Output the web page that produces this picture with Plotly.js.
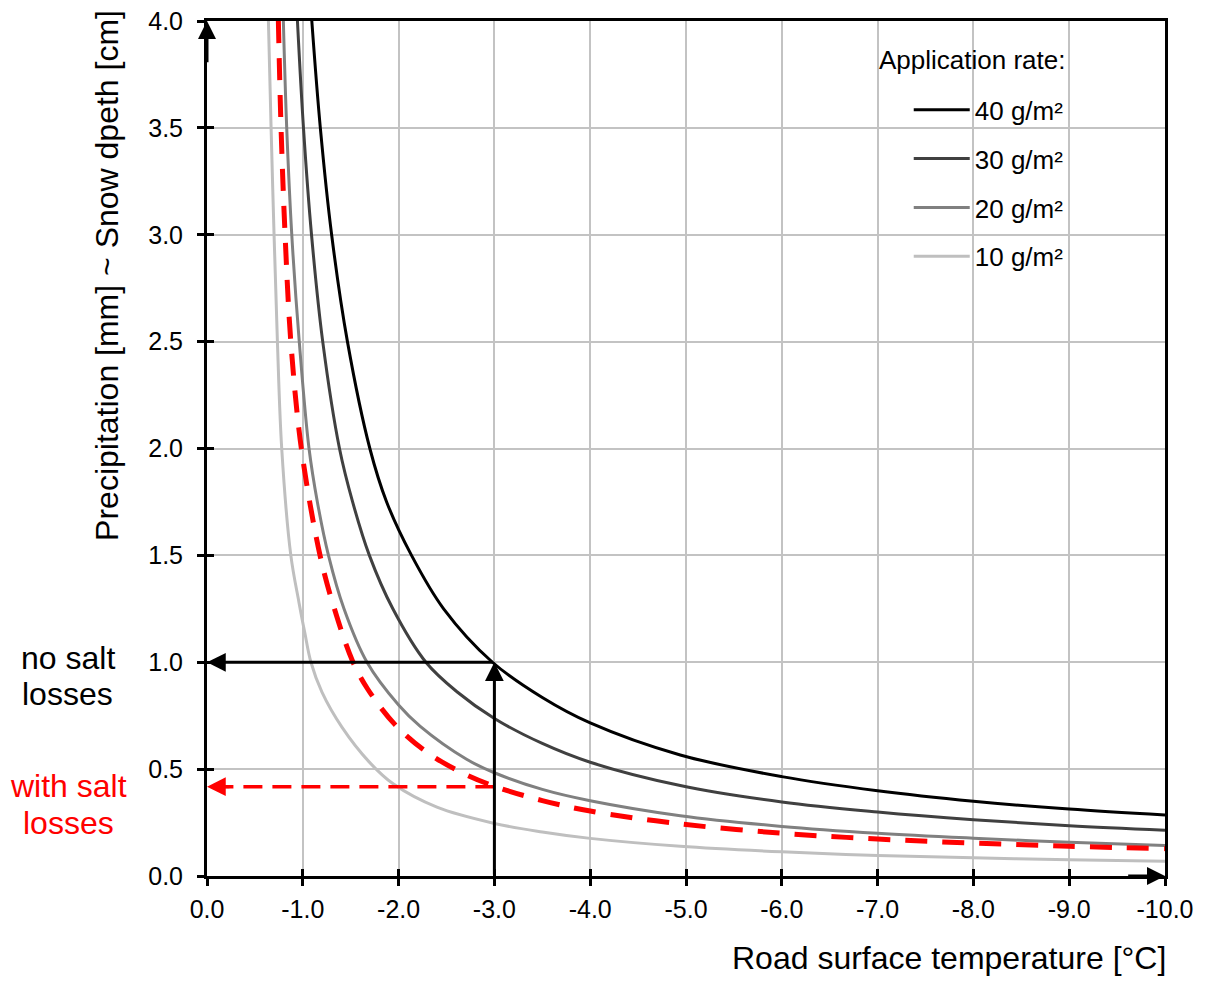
<!DOCTYPE html>
<html><head><meta charset="utf-8">
<script src="https://cdn.plot.ly/plotly-3.0.1.min.js"></script>
<style>html,body{margin:0;padding:0;background:#fff}#chart{width:1211px;height:981px}</style>
</head><body><div id="chart"></div>
<script>
// ---- data ----
const tempTicks = [0,-1,-2,-3,-4,-5,-6,-7,-8,-9,-10];
const tempTickText = ['0.0','-1.0','-2.0','-3.0','-4.0','-5.0','-6.0','-7.0','-8.0','-9.0','-10.0'];
const precTicks = [0,0.5,1,1.5,2,2.5,3,3.5,4];
const precTickText = ['0.0','0.5','1.0','1.5','2.0','2.5','3.0','3.5','4.0'];
const seriesNames = ['40 g/m²','30 g/m²','20 g/m²','10 g/m²'];

const t40 = [-1.094,-1.183,-1.301,-1.466,-1.70,-1.875,-2.135,-2.47,-2.98,-3.5,-4.0,-4.94,-6,-7,-8,-9,-10];
const p40 = [4.0,3.5,3.0,2.5,2.0,1.75,1.5,1.25,1.0,0.835,0.716,0.566,0.465,0.399,0.350,0.313,0.285];

const t30 = [-0.944,-1.007,-1.091,-1.208,-1.383,-1.52,-1.695,-1.94,-2.285,-2.609,-3.0,-3.5,-4.0,-4.94,-6,-7,-8,-9,-10];
const p30 = [4.0,3.5,3.0,2.5,2.0,1.75,1.5,1.25,1.0,0.862,0.737,0.62,0.532,0.423,0.346,0.299,0.263,0.235,0.214];

const t20 = [-0.797,-0.832,-0.885,-0.963,-1.065,-1.152,-1.268,-1.43,-1.67,-2.0,-2.226,-2.714,-3.0,-3.5,-4.0,-4.94,-6,-7,-8,-9,-10];
const p20 = [4.0,3.5,3.0,2.5,2.0,1.75,1.5,1.25,1.0,0.80,0.70,0.545,0.483,0.405,0.352,0.282,0.232,0.200,0.177,0.158,0.143];

const t10 = [-0.641,-0.669,-0.70,-0.735,-0.78,-0.875,-0.96,-1.02,-1.085,-1.20,-1.41,-1.69,-1.947,-2.4,-3.0,-3.5,-4.0,-4.94,-6,-7,-8,-9,-10];
const p10 = [4.0,3.5,3.0,2.5,2.0,1.5,1.28,1.14,1.0,0.86,0.695,0.535,0.43,0.322,0.246,0.206,0.176,0.139,0.113,0.096,0.085,0.076,0.069];

const tLoss = [-0.745,-0.773,-0.815,-0.875,-0.985,-1.18,-1.33,-1.52,-1.675,-1.965,-2.28,-2.644,-3.0,-3.5,-4.0,-4.94,-6,-7,-8,-9,-10];
const pLoss = [4.0,3.5,3.0,2.5,2.0,1.5,1.25,1.005,0.876,0.707,0.584,0.487,0.420,0.353,0.304,0.244,0.200,0.173,0.154,0.139,0.128];

const readTemp = -3.0;
const readNoLoss = 1.0;
const readWithLoss = 0.418;

// ---- styling ----
const FONT = 'Liberation Sans, Arial, sans-serif';
const seriesColors = ['#000000','#404040','#808080','#bfbfbf'];
const seriesT = [t40,t30,t20,t10];
const seriesP = [p40,p30,p20,p10];

const traces = [];
for (let i = 3; i >= 0; i--) {
  traces.push({
    x: seriesT[i], y: seriesP[i], type: 'scatter', mode: 'lines',
    name: seriesNames[i], legendgroup: 'g'+i, legendrank: i+1,
    line: {color: seriesColors[i], width: 3, shape: 'spline', smoothing: 1},
    hoverinfo: 'skip'
  });
}
traces.push({
  x: tLoss, y: pLoss, type: 'scatter', mode: 'lines', showlegend: false,
  line: {color: '#ff0000', width: 5, dash: '22px,15px', shape: 'spline', smoothing: 1},
  hoverinfo: 'skip'
});
traces.push({
  x: [readTemp, -0.15], y: [readWithLoss, readWithLoss], type: 'scatter', mode: 'lines', showlegend: false,
  line: {color: '#ff0000', width: 3.5, dash: '19px,10px'}, hoverinfo: 'skip'
});
traces.push({x: [], y: [], xaxis: 'x2', yaxis: 'y', showlegend: false, hoverinfo: 'skip'});
traces.push({x: [], y: [], xaxis: 'x', yaxis: 'y2', showlegend: false, hoverinfo: 'skip'});

function arrow(x, y, ax, ay, color, size) {
  return {x: x, y: y, ax: ax, ay: ay, xref: 'x', yref: 'y', axref: 'x', ayref: 'y',
    text: '', showarrow: true, arrowhead: 2, arrowsize: size, arrowwidth: 3,
    arrowcolor: color, standoff: 0, startstandoff: 0};
}

const annotations = [
  arrow(0, readNoLoss, readTemp, readNoLoss, '#000', 1.25),
  arrow(readTemp, readNoLoss, readTemp, 0, '#000', 1.25),
  arrow(0, readWithLoss, -0.25, readWithLoss, '#ff0000', 1.25),
  arrow(-10, 0, -9.6, 0, '#000', 1.2),
  arrow(0, 4, 0, 3.8, '#000', 1.2),
  {text: 'Precipitation [mm] ~ Snow dpeth [cm]', xref: 'paper', yref: 'paper', x: -0.1044, y: 0.703,
   xanchor: 'center', yanchor: 'middle', textangle: -90, showarrow: false, font: {size: 32, color: '#000', family: FONT}},
  {text: 'Road surface temperature [°C]', xref: 'paper', yref: 'paper', x: 1.003, y: -0.0959,
   xanchor: 'right', yanchor: 'middle', showarrow: false, font: {size: 32, color: '#000', family: FONT}},
  {text: 'no salt', xref: 'paper', yref: 'y', x: -0.1451, y: 1.02, xanchor: 'center', yanchor: 'middle',
   showarrow: false, font: {size: 32, color: '#000', family: FONT}},
  {text: 'losses', xref: 'paper', yref: 'y', x: -0.1451, y: 0.851, xanchor: 'center', yanchor: 'middle',
   showarrow: false, font: {size: 32, color: '#000', family: FONT}},
  {text: 'with salt', xref: 'paper', yref: 'y', x: -0.1441, y: 0.421, xanchor: 'center', yanchor: 'middle',
   showarrow: false, font: {size: 32, color: '#ff0000', family: FONT}},
  {text: 'losses', xref: 'paper', yref: 'y', x: -0.1441, y: 0.248, xanchor: 'center', yanchor: 'middle',
   showarrow: false, font: {size: 32, color: '#ff0000', family: FONT}},
  {text: 'Application rate:', xref: 'paper', yref: 'paper', x: 0.6994, y: 0.9544, xanchor: 'left', yanchor: 'middle',
   showarrow: false, font: {size: 26, color: '#000', family: FONT}}
];

const axisCommon = {
  showline: true, linecolor: '#000', linewidth: 3, mirror: true,
  ticks: 'outside', ticklen: 7, tickwidth: 3, tickcolor: '#000',
  showgrid: true, gridcolor: '#c3c3c3', gridwidth: 2, zeroline: false,
  tickfont: {size: 25, color: '#000', family: FONT}
};

const layout = {
  width: 1211, height: 981,
  margin: {l: 207, r: 46, t: 21, b: 105},
  paper_bgcolor: '#fff', plot_bgcolor: '#fff',
  font: {family: FONT, color: '#000'},
  showlegend: true,
  xaxis: Object.assign({}, axisCommon, {range: [0, -10], tickvals: tempTicks, ticktext: tempTickText, ticklabelstandoff: 2}),
  yaxis: Object.assign({}, axisCommon, {range: [0, 4], tickvals: precTicks, ticktext: precTickText, ticklabelstandoff: 9}),
  xaxis2: {overlaying: 'x', anchor: 'y', side: 'bottom', range: [0, -10], tickvals: tempTicks, ticks: 'inside', ticklen: 7,
    tickwidth: 3, tickcolor: '#000', showticklabels: false, showgrid: false, zeroline: false, showline: false},
  yaxis2: {overlaying: 'y', anchor: 'x', side: 'left', range: [0, 4], tickvals: precTicks, ticks: 'inside', ticklen: 7,
    tickwidth: 3, tickcolor: '#000', showticklabels: false, showgrid: false, zeroline: false, showline: false},
  legend: {x: 0.7325, y: 0.9235, xanchor: 'left', yanchor: 'top', bgcolor: 'rgba(0,0,0,0)',
    font: {size: 26, color: '#000', family: FONT}, traceorder: 'grouped', tracegroupgap: 12, itemwidth: 56},
  shapes: [{type: 'rect', xref: 'paper', yref: 'paper', x0: 0.673, x1: 0.9635, y0: 0.6936, y1: 0.9848,
    fillcolor: '#fff', line: {width: 0}, layer: 'between'}],
  annotations: annotations
};

Plotly.newPlot('chart', traces, layout, {displayModeBar: false, staticPlot: true});
</script>
</body></html>
